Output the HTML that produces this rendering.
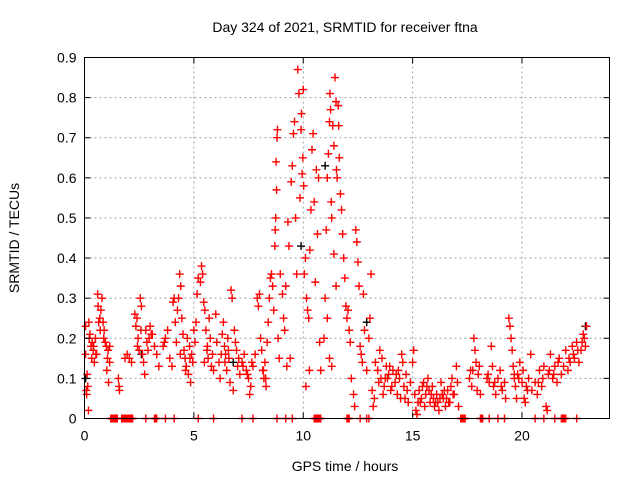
<!DOCTYPE html>
<html><head><meta charset="utf-8"><style>
body{margin:0;background:#fff}
svg{display:block;font-family:"Liberation Sans",sans-serif}
</style></head><body>
<svg id="chart" width="640" height="480" viewBox="0 0 640 480">
<rect width="640" height="480" fill="#fff"/>
<g id="grid"></g>
<g id="pts"></g>
<rect x="84.5" y="57.5" width="525" height="361" fill="none" stroke="#000"/>
<g id="ticks"></g>
<text x="345" y="32" font-size="14" text-anchor="middle">Day 324 of 2021, SRMTID for receiver ftna</text>
<text x="345" y="471" font-size="14" text-anchor="middle">GPS time / hours</text>
<text transform="translate(19,238) rotate(-90)" font-size="14" text-anchor="middle">SRMTID / TECUs</text>
</svg>
<script>
const xTicks=[0,5,10,15,20];
const yTicks=[0,0.1,0.2,0.3,0.4,0.5,0.6,0.7,0.8,0.9];
const yTickLabels=["0","0.1","0.2","0.3","0.4","0.5","0.6","0.7","0.8","0.9"];
const blackHours=[0.05,2.6,9.9,11.0,12.9,22.9,6.8];
const blackValues=[0.1,0.16,0.43,0.63,0.24,0.23,0.14];
const redHours=[0.05,0.05,0.08,0.1,0.12,0.15,0.18,0.2,0.22,0.25,0.3,0.33,0.35,0.4,0.45,0.5,0.55,0.6,0.62,0.65,0.7,0.75,0.8,0.85,0.9,0.95,1.0,1.02,1.05,1.1,1.15,1.15,
1.55,1.58,1.6,1.85,1.95,2.05,2.15,
2.3,2.35,2.4,2.45,2.5,2.55,2.6,2.65,2.7,2.75,2.8,2.85,2.9,2.95,3.0,3.1,3.2,3.3,3.4,
3.6,3.7,3.8,3.9,4.0,4.05,4.1,4.15,4.2,
4.25,4.3,4.35,4.4,4.45,4.5,4.55,4.6,4.65,4.7,4.75,4.8,4.85,4.9,4.95,5.0,5.05,5.1,5.15,5.2,
5.3,5.35,5.4,5.45,5.5,5.55,5.6,5.65,5.7,5.75,5.8,5.85,5.9,6.0,6.05,
6.15,6.2,6.3,6.35,6.4,6.45,6.5,6.55,6.6,6.65,6.7,6.75,6.8,6.85,6.9,6.95,7.0,7.05,
7.1,7.2,7.3,7.4,7.5,7.55,7.6,7.7,7.8,7.9,7.95,8.0,8.05,8.1,
8.15,8.2,8.25,8.3,8.35,8.4,8.45,8.5,8.55,8.6,8.65,8.7,8.72,8.74,8.76,8.78,8.8,8.82,8.85,8.9,8.95,9.05,9.1,9.15,9.2,
9.3,9.35,9.4,9.45,9.5,9.55,9.6,9.65,9.7,9.75,9.8,9.85,9.9,9.92,9.95,9.98,10.0,10.02,10.05,10.1,10.15,10.2,10.25,10.3,10.35,10.4,10.45,10.5,10.55,10.6,10.65,10.7,10.75,10.8,
10.95,11.0,11.05,11.1,11.15,11.2,11.22,11.25,11.28,11.3,11.35,11.4,11.45,11.5,11.52,11.55,11.6,11.62,11.65,11.7,11.75,11.8,11.85,11.9,11.95,12.0,12.05,12.1,11.2,11.3,11.1,11.4,11.5,
12.15,12.2,12.3,12.35,12.4,12.45,12.5,12.55,12.6,12.65,12.7,12.75,12.8,12.9,13.0,13.05,13.1,13.15,13.2,13.25,
13.3,13.4,13.5,13.55,13.6,13.7,13.8,13.9,14.0,14.1,14.2,14.3,14.4,14.5,14.55,14.6,14.7,14.8,14.9,15.0,15.05,15.1,15.15,15.2,15.25,
15.3,15.4,15.5,15.6,15.7,15.8,15.9,16.0,16.1,16.2,16.3,16.4,16.5,16.6,16.7,16.8,16.9,17.0,17.05,17.1,
15.45,15.55,15.75,15.95,16.15,16.35,16.55,16.75,14.25,14.65,13.75,13.95,
17.6,17.7,17.75,17.8,17.85,17.9,17.95,18.0,18.05,18.1,18.4,18.5,18.6,18.65,18.7,18.8,18.9,19.0,19.1,19.2,19.25,
19.4,19.45,19.5,19.55,19.6,19.65,19.7,19.75,19.8,19.9,20.0,20.05,20.1,20.15,20.2,20.3,20.4,20.45,
20.6,20.7,20.8,20.9,21.0,21.1,21.15,21.2,21.3,21.4,21.5,21.6,21.7,21.8,21.9,22.0,22.1,22.2,22.3,22.4,22.5,22.6,22.7,22.8,22.85,22.9,22.95,
0.42,0.52,0.72,0.88,1.08,2.42,2.58,3.05,3.65,4.38,4.62,4.82,5.48,5.62,6.25,6.42,6.58,7.25,7.45,7.65,8.18,8.28,9.25,10.12,10.28,13.45,13.65,13.85,14.05,14.35,14.45,14.75,15.35,15.65,15.85,16.05,16.25,16.45,16.65,16.85,17.65,18.45,18.75,19.05,19.65,19.85,20.25,20.75,20.95,21.25,21.45,21.65,22.15,22.35,22.55,22.75,
1.2,1.25,1.3,1.35,1.4,1.45,1.5,1.7,1.75,1.8,1.85,1.9,1.95,2.0,2.05,2.1,2.15,2.2,2.8,3.2,3.25,3.3,3.7,4.1,5.2,5.9,7.2,7.7,8.8,9.2,9.5,10.5,10.55,10.6,10.65,10.7,10.75,10.8,12.0,12.05,12.1,12.6,12.9,13.0,17.2,17.25,17.3,17.35,17.4,18.1,18.15,18.2,18.5,18.9,19.2,20.6,21.0,21.5,21.8,21.85,21.9,21.95,22.0,22.5];
const redValues=[0.23,0.16,0.07,0.06,0.11,0.08,0.02,0.24,0.2,0.21,0.18,0.15,0.19,0.17,0.14,0.2,0.16,0.31,0.28,0.24,0.25,0.27,0.3,0.24,0.22,0.19,0.18,0.12,0.15,0.09,0.18,0.14,
0.1,0.08,0.07,0.15,0.16,0.15,0.14,
0.26,0.23,0.25,0.2,0.17,0.3,0.28,0.16,0.14,0.11,0.22,0.19,0.17,0.2,0.23,0.21,0.18,0.16,0.13,
0.18,0.2,0.22,0.15,0.13,0.29,0.3,0.24,0.19,
0.27,0.3,0.36,0.33,0.25,0.21,0.17,0.15,0.13,0.2,0.11,0.18,0.09,0.16,0.14,0.22,0.19,0.24,0.31,0.35,
0.34,0.38,0.36,0.29,0.27,0.22,0.17,0.15,0.25,0.2,0.13,0.16,0.12,0.26,0.19,
0.14,0.1,0.21,0.24,0.18,0.16,0.12,0.2,0.15,0.09,0.32,0.3,0.07,0.22,0.19,0.17,0.13,0.15,
0.11,0.14,0.16,0.12,0.1,0.06,0.08,0.13,0.16,0.3,0.28,0.31,0.2,0.17,
0.12,0.1,0.14,0.08,0.19,0.24,0.3,0.35,0.36,0.33,0.27,0.43,0.47,0.5,0.64,0.57,0.7,0.72,0.2,0.15,0.36,0.31,0.25,0.22,0.33,
0.49,0.43,0.15,0.59,0.63,0.71,0.74,0.5,0.36,0.87,0.81,0.55,0.72,0.76,0.61,0.65,0.82,0.58,0.36,0.4,0.3,0.27,0.25,0.42,0.52,0.67,0.71,0.54,0.34,0.62,0.46,0.6,0.19,0.12,
0.2,0.3,0.47,0.6,0.66,0.74,0.81,0.77,0.54,0.5,0.73,0.68,0.85,0.79,0.62,0.6,0.78,0.73,0.65,0.56,0.52,0.46,0.4,0.35,0.28,0.25,0.27,0.22,0.15,0.13,0.25,0.41,0.33,
0.19,0.1,0.06,0.03,0.47,0.44,0.39,0.33,0.18,0.16,0.14,0.31,0.22,0.12,0.2,0.25,0.36,0.07,0.03,0.05,
0.14,0.12,0.17,0.1,0.15,0.08,0.13,0.11,0.07,0.12,0.09,0.06,0.1,0.16,0.14,0.08,0.11,0.04,0.09,0.14,0.17,0.06,0.02,0.01,0.04,
0.07,0.05,0.09,0.06,0.1,0.04,0.08,0.03,0.06,0.02,0.09,0.05,0.03,0.07,0.04,0.1,0.06,0.13,0.09,0.03,
0.08,0.03,0.07,0.05,0.04,0.06,0.05,0.08,0.11,0.05,0.1,0.13,
0.1,0.08,0.12,0.2,0.17,0.14,0.07,0.11,0.13,0.06,0.1,0.09,0.18,0.13,0.08,0.06,0.1,0.12,0.07,0.09,0.05,
0.25,0.23,0.2,0.17,0.13,0.1,0.08,0.05,0.11,0.14,0.09,0.12,0.05,0.04,0.08,0.1,0.16,0.07,
0.09,0.06,0.12,0.08,0.13,0.03,0.02,0.11,0.16,0.1,0.13,0.09,0.15,0.11,0.13,0.17,0.12,0.14,0.18,0.15,0.19,0.14,0.17,0.21,0.2,0.18,0.23,
0.18,0.16,0.22,0.2,0.17,0.18,0.22,0.21,0.19,0.16,0.12,0.15,0.14,0.18,0.16,0.14,0.17,0.13,0.11,0.14,0.12,0.1,0.13,0.08,0.12,0.09,0.06,0.1,0.08,0.12,0.05,0.07,0.04,0.08,0.06,0.04,0.05,0.07,0.04,0.06,0.12,0.11,0.09,0.08,0.11,0.1,0.07,0.09,0.1,0.12,0.11,0.14,0.15,0.16,0.17,0.19,
0,0,0,0,0,0,0,0,0,0,0,0,0,0,0,0,0,0,0,0,0,0,0,0,0,0,0,0,0,0,0,0,0,0,0,0,0,0,0,0,0,0,0,0,0,0,0,0,0,0,0,0,0,0,0,0,0,0,0,0,0,0,0,0];

const NS="http://www.w3.org/2000/svg";
const X0=84.5,X1=609.5,Y0=418.5,Y1=57.5,XMAX=24,YMAX=0.9;
function sx(h){return X0+(X1-X0)*h/XMAX;}
function sy(v){return Y0-(Y0-Y1)*v/YMAX;}
function mk(tag,attrs,parent){const e=document.createElementNS(NS,tag);for(const k in attrs)e.setAttribute(k,attrs[k]);parent.appendChild(e);return e;}
const grid=document.getElementById('grid'),ticks=document.getElementById('ticks'),pts=document.getElementById('pts');
xTicks.forEach((t,i)=>{const x=sx(t);
 if(t>0){const g=mk('line',{x1:x,x2:x,y1:Y0,y2:Y1,stroke:'#a0a0a0','stroke-dasharray':'2,3'},grid);
 
 }
 mk('line',{x1:x,x2:x,y1:Y0,y2:Y0-6,stroke:'#000'},ticks);
 mk('line',{x1:x,x2:x,y1:Y1,y2:Y1+6,stroke:'#000'},ticks);
 const l=mk('text',{x:x,y:Y0+22,'font-size':14,'text-anchor':'middle'},ticks);l.textContent=t;
 
 });
yTicks.forEach((t,i)=>{const y=sy(t);
 if(t>0&&t<0.9){const g=mk('line',{x1:X0,x2:X1,y1:y,y2:y,stroke:'#a0a0a0','stroke-dasharray':'2,3'},grid);
 
 }
 mk('line',{x1:X0,x2:X0+6,y1:y,y2:y,stroke:'#000'},ticks);
 mk('line',{x1:X1,x2:X1-6,y1:y,y2:y,stroke:'#000'},ticks);
 const l=mk('text',{x:X0-8,y:y+5,'font-size':14,'text-anchor':'end'},ticks);l.textContent=yTickLabels[i];
 
 });
function plus(h,v,col,name){const x=sx(h),y=sy(v);
 const p=mk('path',{d:`M${x-4},${y}H${x+4}M${x},${y-4}V${y+4}`,stroke:col,'stroke-width':1.4,fill:'none'},pts);
 
 }
blackHours.forEach((h,i)=>plus(h,blackValues[i],'#000','black-point'));
redHours.forEach((h,i)=>plus(h,redValues[i],'#f00','red-point'));
</script>
</body></html>
